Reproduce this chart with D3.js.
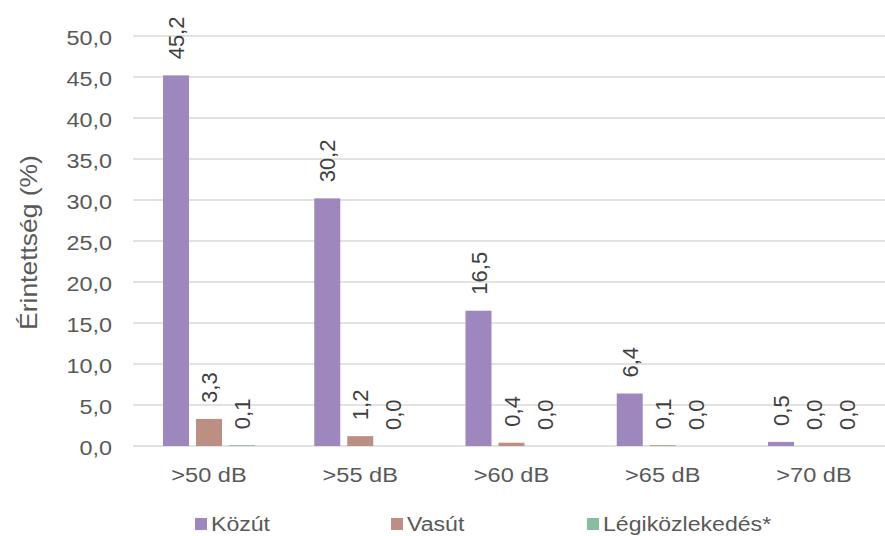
<!DOCTYPE html>
<html>
<head>
<meta charset="utf-8">
<script src="https://cdn.jsdelivr.net/npm/d3@7"></script>
<style>
  html, body { margin: 0; padding: 0; background: #fff; }
  svg { display: block; font-family: "Liberation Sans", Arial, sans-serif; }
</style>
</head>
<body>
<svg id="chart" width="885" height="536"></svg>
<script>
// Noise exposure levels and share of population affected (%)
const categories = [">50 dB", ">55 dB", ">60 dB", ">65 dB", ">70 dB"];
const seriesNames = ["Közút", "Vasút", "Légiközlekedés*"];
const kozut = [45.2, 30.2, 16.5, 6.4, 0.5];
const vasut = [3.3, 1.2, 0.4, 0.1, 0.0];
const legi = [0.1, 0.0, 0.0, 0.0, 0.0];
const yTicks = [0, 5, 10, 15, 20, 25, 30, 35, 40, 45, 50];
const colors = ["#9d87bd", "#bc8f84", "#87bca0"];

const values = [kozut, vasut, legi];
const rows = categories.map((c, i) => ({
  cat: c,
  vals: seriesNames.map((s, j) => ({ series: s, value: values[j][i], color: colors[j] }))
}));

const svg = d3.select("#chart");
const comma = v => d3.format(".1f")(v).replace(".", ",");

const y = d3.scaleLinear().domain([0, 50]).range([446, 36]);
const x0 = d3.scaleBand().domain(categories).range([133.4, 889.6]).padding(0);
const x1 = d3.scaleBand().domain(seriesNames).range([0, 92]).paddingInner(7 / 33).paddingOuter(0);
const groupOffset = x0.bandwidth() / 2 - 46;

// gridlines
svg.append("g")
  .selectAll("line")
  .data(yTicks)
  .join("line")
  .attr("x1", 133).attr("x2", 885)
  .attr("y1", d => y(d)).attr("y2", d => y(d))
  .attr("stroke", "#d9d9d9")
  .attr("stroke-width", 1.5);

// y axis tick labels
const yAxis = svg.append("g")
  .attr("transform", "translate(112,0)")
  .call(d3.axisLeft(y).tickValues(yTicks).tickFormat(comma).tickSize(0).tickPadding(0));
yAxis.select(".domain").remove();
yAxis.selectAll("text")
  .attr("x", 0)
  .attr("dy", "0.42em")
  .attr("fill", "#595959")
  .style("font-size", "19.5px")
  .attr("font-family", null)
  .attr("transform", "scale(1.2,1)");

// y axis title
svg.append("text")
  .attr("transform", "translate(37,242.5) rotate(-90) scale(1.15,1)")
  .attr("text-anchor", "middle")
  .attr("fill", "#595959")
  .style("font-size", "23px")
  .text("Érintettség (%)");

// x axis labels
const xAxis = svg.append("g")
  .attr("transform", "translate(0,468)")
  .call(d3.axisBottom(x0).tickSize(0).tickPadding(0));
xAxis.select(".domain").remove();
xAxis.selectAll("text")
  .attr("y", 0)
  .attr("dy", "0.72em")
  .attr("fill", "#595959")
  .style("font-size", "19.5px")
  .attr("font-family", null)
  .attr("transform", "scale(1.21,1)");

// bars
const groups = svg.append("g")
  .selectAll("g")
  .data(rows)
  .join("g")
  .attr("transform", d => `translate(${x0(d.cat) + groupOffset},0)`);

groups.selectAll("rect")
  .data(d => d.vals)
  .join("rect")
  .attr("x", d => x1(d.series))
  .attr("width", x1.bandwidth())
  .attr("y", d => y(d.value))
  .attr("height", d => y(0) - y(d.value))
  .attr("fill", d => d.color);

// value labels, rotated
groups.selectAll("text.val")
  .data(d => d.vals)
  .join("text")
  .attr("class", "val")
  .attr("transform", d => `translate(${x1(d.series) + x1.bandwidth() / 2 + 8},${y(d.value) - 16}) rotate(-90)`)
  .attr("text-anchor", "start")
  .attr("fill", "#404040")
  .style("font-size", "22px")
  .text(d => comma(d.value));

// legend
const legend = svg.append("g")
  .selectAll("g")
  .data(seriesNames)
  .join("g")
  .attr("transform", (d, i) => `translate(${195 + i * 196},0)`);
legend.append("rect")
  .attr("x", 0).attr("y", 518)
  .attr("width", 12).attr("height", 12)
  .attr("fill", (d, i) => colors[i]);
legend.append("text")
  .attr("transform", "translate(16,531) scale(1.1,1)")
  .attr("fill", "#595959")
  .style("font-size", "21px")
  .text(d => d);
</script>
</body>
</html>
